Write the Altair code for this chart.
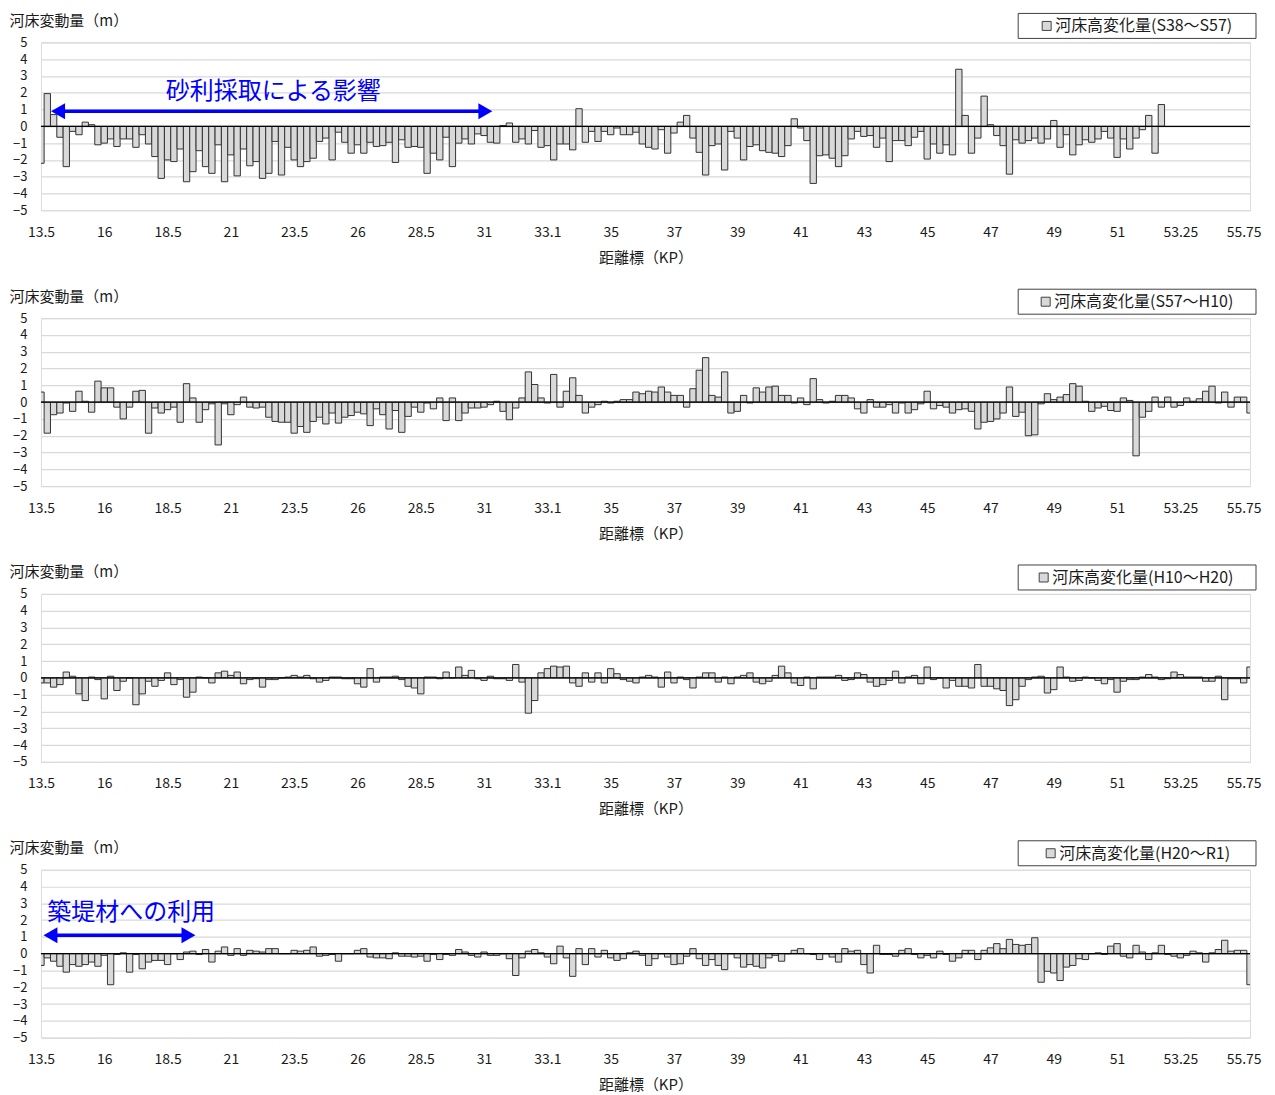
import altair as alt
import pandas as pd

FONT = "Noto Sans CJK JP"
W, H = 1210, 168
N = 192

kp_labels = ["13.5", "16", "18.5", "21", "23.5", "26", "28.5", "31", "33.1", "35",
             "37", "39", "41", "43", "45", "47", "49", "51", "53.25", "55.75"]

legend_titles = ["河床高変化量(S38〜S57)", "河床高変化量(S57〜H10)",
                 "河床高変化量(H10〜H20)", "河床高変化量(H20〜R1)"]

p1_values = [
    -2.2, 1.95, 0.7, -0.65, -2.4, -0.3, -0.5, 0.25, 0.1, -1.1,
    -1.0, -0.75, -1.2, -0.75, -0.75, -1.25, -0.5, -1.05, -1.8, -3.1,
    -2.0, -2.1, -1.35, -3.3, -2.7, -1.45, -2.4, -2.8, -1.1, -3.3,
    -1.7, -2.95, -1.35, -2.35, -2.1, -3.1, -2.8, -0.9, -2.9, -1.25,
    -2.0, -2.4, -2.1, -1.9, -0.9, -0.7, -2.0, -0.35, -0.95, -1.6,
    -1.1, -1.6, -0.95, -1.2, -1.15, -0.95, -2.15, -0.8, -1.25, -1.2,
    -1.25, -2.8, -1.6, -2.0, -0.65, -2.4, -1.0, -0.75, -1.05, -0.45,
    -0.55, -0.95, -1.0, 0.05, 0.2, -0.95, -0.75, -1.05, -0.25, -1.25,
    -1.15, -2.0, -1.05, -1.05, -1.4, 1.05, -0.95, -0.3, -0.9, -0.3,
    -0.5, -0.1, -0.5, -0.5, -0.35, -1.05, -1.25, -1.35, -0.2, -1.6,
    -0.4, 0.25, 0.65, -0.7, -1.55, -2.9, -1.15, -1.05, -2.6, -0.3,
    -0.7, -2.0, -1.2, -1.1, -1.45, -1.55, -1.6, -1.8, -1.15, 0.45,
    -0.1, -0.85, -3.4, -1.75, -1.7, -1.9, -2.4, -1.75, -0.75, -0.3,
    -0.6, -0.55, -1.25, -0.7, -2.1, -0.85, -0.85, -1.15, -0.65, -0.3,
    -1.95, -1.05, -1.6, -1.1, -1.7, 3.4, 0.65, -1.6, -0.7, 1.8,
    0.1, -0.55, -1.15, -2.85, -0.8, -1.0, -0.85, -0.7, -1.0, -0.75,
    0.35, -1.25, -0.5, -1.7, -1.1, -0.8, -0.95, -0.75, -0.3, -0.7,
    -1.85, -0.75, -1.35, -0.7, -0.2, 0.65, -1.6, 1.3,
    None, None, None, None, None, None, None, None, None, None, None, None, None, None,
]

p2_values = [
    0.6, -1.85, -0.75, -0.65, -0.05, -0.55, 0.65, 0.05, -0.6, 1.25,
    0.85, 0.85, -0.3, -1.0, -0.3, 0.65, 0.7, -1.85, -0.35, -0.65,
    -0.45, -0.3, -1.2, 1.1, 0.25, -1.2, -0.45, -0.1, -2.55, -0.1,
    -0.75, -0.15, 0.3, -0.3, -0.35, -0.3, -0.9, -1.15, -1.2, -1.2,
    -1.85, -1.45, -1.8, -1.15, -0.9, -1.3, -0.65, -1.25, -0.9, -0.8,
    -0.6, -0.7, -1.4, -0.4, -0.75, -1.6, -0.5, -1.8, -0.85, -0.3,
    -0.6, -0.05, -0.4, 0.25, -1.1, 0.25, -1.1, -0.65, -0.35, -0.35,
    -0.3, -0.15, 0.05, -0.55, -1.05, -0.35, 0.25, 1.8, 1.05, 0.25,
    -0.05, 1.65, -0.3, 0.65, 1.45, 0.4, -0.65, -0.3, -0.15, 0.05,
    -0.05, 0.05, 0.15, 0.15, 0.6, 0.5, 0.65, 0.6, 0.9, 0.6,
    0.4, 0.4, -0.3, 0.8, 1.9, 2.65, 0.4, 0.3, 1.8, -0.65,
    -0.55, 0.4, -0.05, 0.85, 0.6, 0.9, 0.95, 0.4, 0.4, -0.05,
    0.25, -0.15, 1.4, 0.15, -0.05, 0.05, 0.4, 0.4, 0.25, -0.4,
    -0.65, 0.15, -0.3, -0.3, -0.15, -0.65, -0.05, -0.65, -0.45, -0.1,
    0.65, -0.4, -0.2, -0.3, -0.65, -0.45, -0.4, -0.55, -1.6, -1.2,
    -1.15, -1.0, -0.65, 0.9, -0.85, -0.6, -2.0, -1.95, -0.1, 0.5,
    0.15, 0.3, 0.45, 1.1, 0.95, 0.05, -0.55, -0.35, -0.25, -0.5,
    -0.55, 0.25, 0.1, -3.2, -0.9, -0.55, 0.3, -0.3, 0.3, -0.3,
    -0.2, 0.25, 0.05, 0.2, 0.65, 0.95, -0.05, 0.6, -0.3, 0.3,
    0.3, -0.65,
]

p3_values = [
    -0.3, -0.3, -0.55, -0.4, 0.35, 0.1, -0.95, -1.35, 0.05, -0.1,
    -1.25, 0.1, -0.75, -0.2, 0.0, -1.6, -0.95, -0.2, -0.5, -0.15,
    0.3, -0.4, -0.1, -1.15, -0.85, 0.05, 0.0, -0.3, 0.3, 0.4,
    0.15, 0.35, -0.35, -0.1, -0.05, -0.55, -0.1, -0.1, 0.0, 0.05,
    0.15, 0.05, 0.15, -0.05, -0.25, -0.15, 0.05, 0.05, -0.05, -0.05,
    -0.35, -0.55, 0.55, -0.25, 0.05, 0.05, 0.1, -0.1, -0.5, -0.6,
    -0.95, 0.05, 0.05, -0.05, 0.35, 0.0, 0.65, 0.15, 0.45, -0.05,
    -0.15, 0.1, -0.05, -0.05, -0.15, 0.8, -0.25, -2.1, -1.35, 0.3,
    0.55, 0.7, 0.65, 0.7, -0.3, -0.5, 0.3, -0.25, 0.3, -0.3,
    0.55, 0.25, -0.1, -0.2, -0.3, 0.05, 0.15, 0.05, -0.55, 0.35,
    -0.3, 0.05, -0.1, -0.6, 0.05, 0.3, 0.3, -0.25, 0.05, -0.35,
    0.05, 0.15, 0.3, -0.25, -0.35, -0.2, 0.15, 0.7, 0.3, -0.3,
    -0.45, 0.05, -0.65, 0.05, 0.05, 0.05, 0.15, -0.15, -0.1, 0.3,
    0.2, -0.25, -0.5, -0.4, -0.15, 0.4, -0.3, 0.05, 0.15, -0.35,
    0.65, -0.1, 0.0, -0.6, -0.15, -0.5, -0.5, -0.6, 0.8, -0.5,
    -0.5, -0.65, -0.75, -1.65, -1.3, -0.5, -0.1, 0.05, 0.1, -0.9,
    -0.7, 0.65, 0.05, -0.2, -0.15, 0.05, 0.0, -0.15, -0.35, -0.1,
    -0.85, -0.2, -0.1, -0.1, 0.05, 0.2, 0.05, -0.1, -0.05, 0.35,
    0.2, 0.05, 0.05, 0.05, -0.2, -0.2, 0.1, -1.3, -0.05, -0.05,
    -0.3, 0.65,
]

p4_values = [
    -0.7, -0.25, -0.45, -0.75, -1.1, -0.65, -0.75, -0.65, -0.5, -0.75,
    -0.1, -1.85, -0.05, 0.05, -1.1, -0.05, -0.9, -0.5, -0.4, -0.4,
    -0.65, 0.0, -0.35, 0.1, 0.15, -0.05, 0.25, -0.5, 0.15, 0.4,
    -0.1, 0.3, -0.1, 0.2, 0.15, 0.1, 0.3, 0.3, 0.0, 0.0,
    0.2, 0.15, 0.2, 0.4, -0.15, -0.1, -0.05, -0.45, 0.0, 0.0,
    0.2, 0.3, -0.2, -0.25, -0.25, -0.3, 0.05, -0.15, -0.15, -0.2,
    -0.15, -0.45, -0.05, -0.35, -0.05, -0.1, 0.25, 0.1, -0.1, -0.2,
    0.1, -0.1, -0.1, 0.0, -0.3, -1.3, -0.25, 0.15, 0.25, 0.05,
    -0.2, -0.6, 0.45, -0.25, -1.35, 0.3, -0.65, 0.3, -0.2, 0.2,
    -0.25, -0.4, -0.3, 0.05, 0.15, -0.1, -0.7, -0.3, 0.0, -0.2,
    -0.65, -0.6, -0.15, 0.3, -0.3, -0.7, -0.35, -0.7, -0.95, 0.0,
    -0.25, -0.8, -0.65, -0.75, -0.85, -0.25, -0.1, -0.45, 0.0, 0.2,
    0.3, 0.0, -0.05, -0.35, 0.0, -0.2, -0.5, 0.3, 0.15, 0.2,
    -0.65, -1.15, 0.5, -0.05, -0.05, -0.15, 0.2, 0.3, -0.05, -0.25,
    -0.1, -0.25, 0.15, -0.05, -0.45, -0.25, 0.2, 0.2, -0.35, 0.2,
    0.35, 0.6, 0.3, 0.85, 0.55, 0.5, 0.55, 0.95, -1.7, -1.05,
    -1.15, -1.6, -0.8, -0.7, -0.3, -0.35, 0.0, 0.05, -0.05, 0.45,
    0.6, -0.15, -0.25, 0.5, 0.1, -0.35, 0.05, 0.5, -0.05, -0.15,
    -0.25, -0.1, 0.15, 0.05, -0.5, 0.05, 0.25, 0.8, 0.15, 0.2,
    0.2, -1.85,
]

# legend square left edge (px from plot-left) per panel
legend_sq_x = [1002, 1001, 999, 1006]

BLUE = "#0000ff"
TXT = "#1a1a1a"
xscale = alt.Scale(domain=[0, N - 1], nice=False, zero=False)
yscale = alt.Scale(domain=[-5, 5], nice=False, zero=False)
label_expr = "[" + ",".join("'%s'" % l for l in kp_labels) + "][round(datum.value / 10)]"

xaxis = alt.Axis(values=list(range(0, 191, 10)), labelExpr=label_expr,
                 title="距離標（KP）", grid=False, ticks=False, domain=False,
                 labelPadding=15, labelFontSize=14, titleFontSize=15,
                 titleFontWeight="normal", titleY=47, titleBaseline="middle",
                 labelFlush=False, labelOverlap=False, labelColor=TXT,
                 titleColor=TXT, labelFont=FONT, titleFont=FONT)
yaxis = alt.Axis(values=list(range(-5, 6)), title="河床変動量（m）",
                 titleAngle=0, titleAlign="left", titleBaseline="middle",
                 titleX=-32, titleY=-22, titleFontSize=15, titleFontWeight="normal",
                 grid=True, gridColor="#d9d9d9", gridWidth=1.2, ticks=False,
                 domain=False, labelPadding=14, labelFontSize=13,
                 labelColor=TXT, titleColor=TXT, labelFont=FONT, titleFont=FONT)


def X(field):
    return alt.X(field, scale=xscale, axis=xaxis)


def Y(field):
    return alt.Y(field, scale=yscale, axis=yaxis)


def panel(values, legend_text, sq_x, annot=None):
    df = pd.DataFrame({"idx": list(range(len(values))), "v": values}).dropna()
    df["x0"] = df["idx"] - 0.5
    df["x1"] = df["idx"] + 0.5

    bars = alt.Chart(df).mark_rect(fill="#d9d9d9", stroke="#333333",
                                   strokeWidth=1, clip=True).encode(
        x=X("x0:Q"),
        x2="x1:Q",
        y=Y("v:Q"),
        y2=alt.datum(0),
    )

    zero = alt.Chart(pd.DataFrame({"z": [0]})).mark_rule(
        color="#000000", strokeWidth=1.3).encode(y=Y("z:Q"))

    one = pd.DataFrame({"a": [0]})
    box = alt.Chart(one).mark_rect(fill="white", stroke="#404040",
                                   strokeWidth=1).encode(
        x=alt.value(978), x2=alt.value(1216), y=alt.value(-29), y2=alt.value(-4)
    )
    sq = alt.Chart(one).mark_rect(fill="#d9d9d9", stroke="#404040",
                                  strokeWidth=1).encode(
        x=alt.value(sq_x), x2=alt.value(sq_x + 9), y=alt.value(-21), y2=alt.value(-12)
    )
    ltxt = alt.Chart(one).mark_text(align="left", baseline="middle",
                                    font=FONT, fontSize=16, color=TXT).encode(
        x=alt.value(sq_x + 13), y=alt.value(-16), text=alt.value(legend_text)
    )

    layers = [bars, zero, box, sq, ltxt]

    if annot is not None:
        a = annot
        tdf = pd.DataFrame({"tx": [a["tx"]], "ty": [a["ty"]], "t": [a["text"]]})
        txt = alt.Chart(tdf).mark_text(font=FONT, fontSize=24, color=BLUE,
                                       align=a["align"], baseline="middle").encode(
            x=X("tx:Q"), y=Y("ty:Q"), text="t:N",
        )
        rdf = pd.DataFrame({"ax1": [a["x1"]], "ax2": [a["x2"]], "ay": [a["y"]]})
        line = alt.Chart(rdf).mark_rule(color=BLUE, strokeWidth=3.5).encode(
            x=X("ax1:Q"), x2="ax2:Q", y=Y("ay:Q"),
        )
        hl = alt.Chart(rdf).mark_point(shape="triangle-left", filled=True, size=260,
                                       color=BLUE, opacity=1).encode(
            x=X("ax1:Q"), y=Y("ay:Q"),
        )
        hr = alt.Chart(rdf).mark_point(shape="triangle-right", filled=True, size=260,
                                       color=BLUE, opacity=1).encode(
            x=X("ax2:Q"), y=Y("ay:Q"),
        )
        layers += [line, hl, hr, txt]

    return alt.layer(*layers).properties(width=W, height=H)


annot1 = {"text": "砂利採取による影響", "tx": 36.7, "ty": 2.02, "align": "center",
          "x1": 2.7, "x2": 70.2, "y": 0.9}
annot4 = {"text": "築堤材への利用", "tx": 1.0, "ty": 2.45, "align": "left",
          "x1": 1.5, "x2": 23.3, "y": 1.1}

panels = [
    panel(p1_values, legend_titles[0], legend_sq_x[0], annot1),
    panel(p2_values, legend_titles[1], legend_sq_x[1]),
    panel(p3_values, legend_titles[2], legend_sq_x[2]),
    panel(p4_values, legend_titles[3], legend_sq_x[3], annot4),
]

chart = alt.vconcat(*panels, spacing=108, bounds="flush").properties(
    padding={"left": 0, "top": 4, "right": 5, "bottom": 5}
).configure_view(stroke="#5a5a5a", strokeWidth=1.5).configure(background="white")

chart.save("out.html", embed_options={"renderer": "svg", "actions": False})
